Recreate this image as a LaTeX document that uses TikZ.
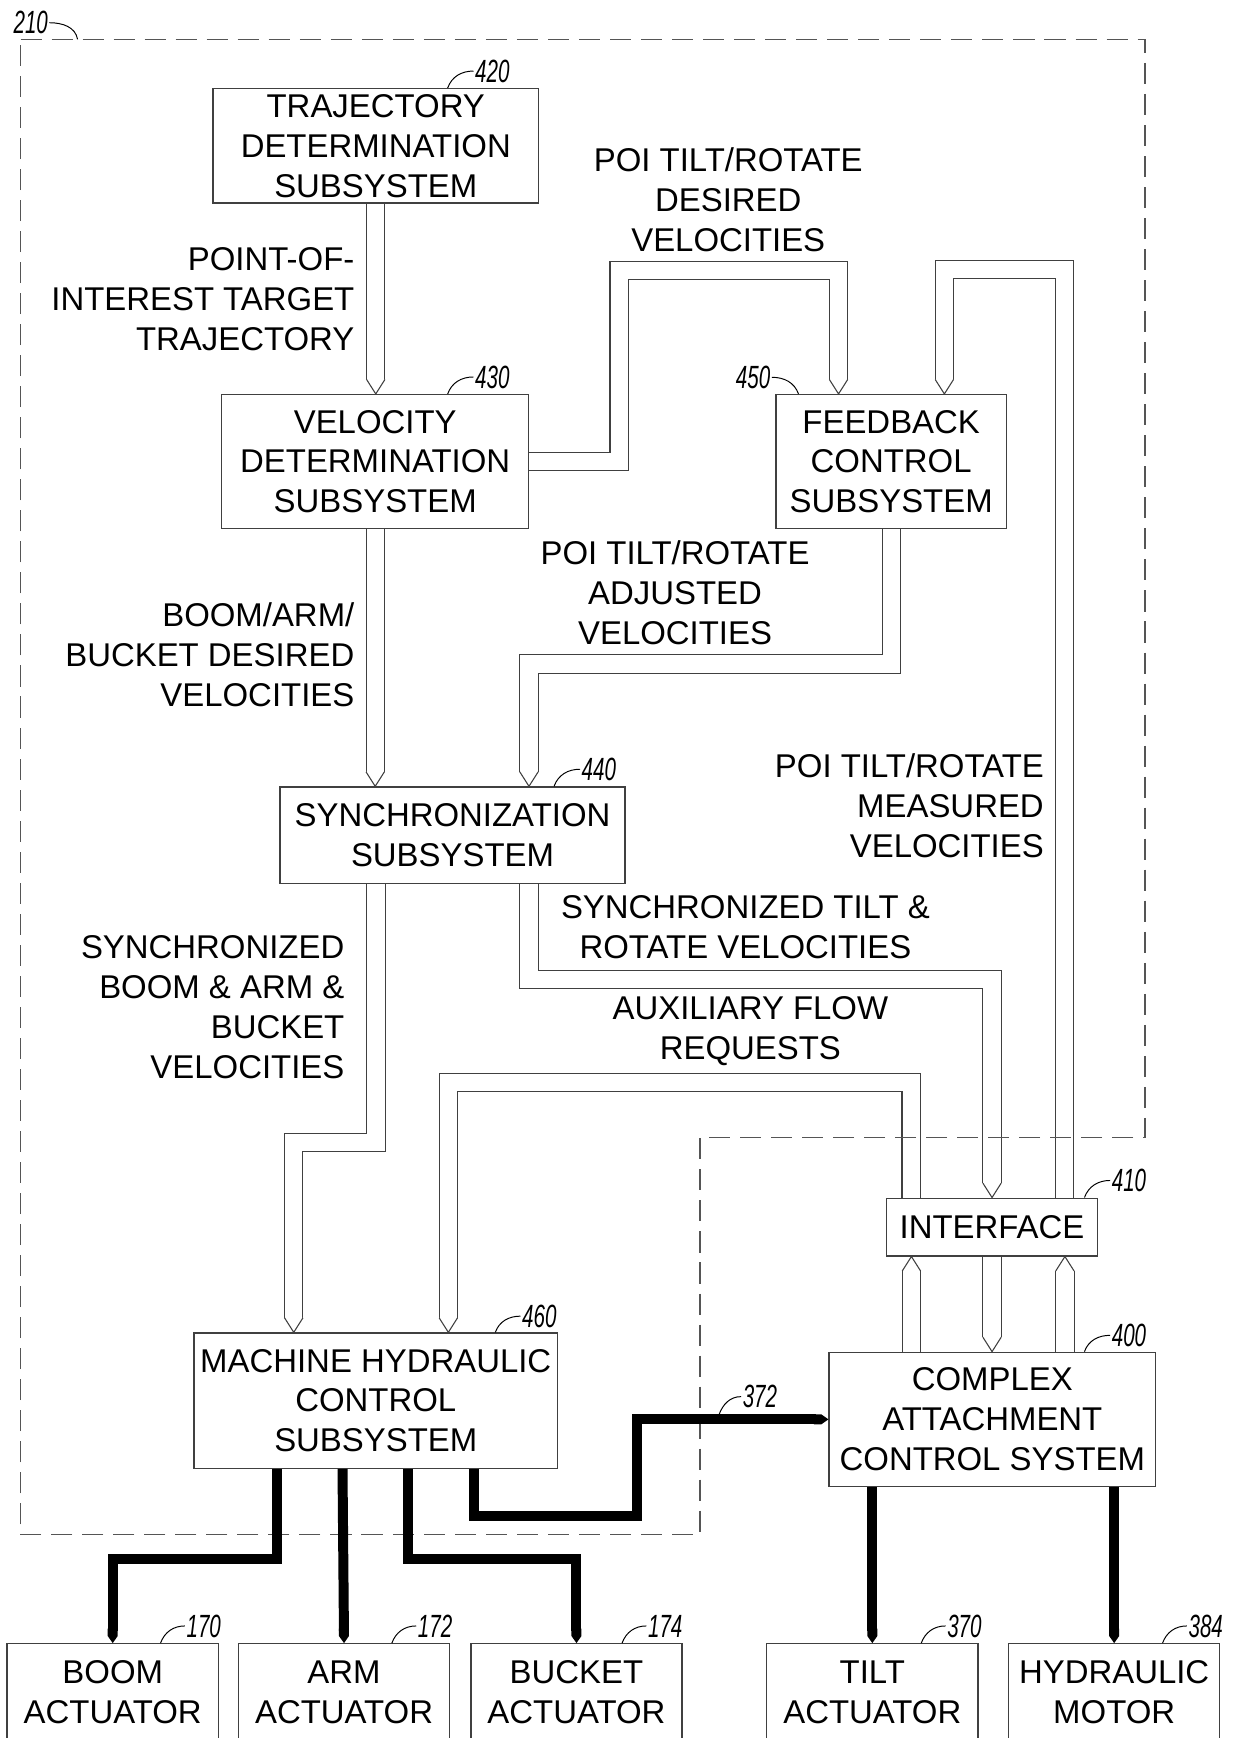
\documentclass[tikz,border=0pt]{standalone}
\usepackage{fontspec}
\setmainfont{Liberation Sans}
\newfontfamily\refnumfamily[FakeStretch=0.64]{Liberation Sans}
\usetikzlibrary{arrows.meta, positioning, backgrounds}
\definecolor{inkgray}{RGB}{64,64,64}
\definecolor{dashgray}{RGB}{85,85,85}
\newcommand{\sysboxfont}{\fontsize{16.9}{20.5}\selectfont}
\newcommand{\refnumstyle}{\refnumfamily\itshape\fontsize{16.5}{17}\selectfont}
\tikzset{
    sysbox/.style={rectangle, draw=inkgray, line width=0.7pt, align=center, inner sep=0pt, font=\sysboxfont},
    actbox/.style={sysbox, minimum width=3.81cm, minimum height=1.74cm},
    pipeflow/.style={draw=inkgray, line width=0.55pt, double=white, double distance=0.31cm, shorten >=0.26cm},
    pipetip/.style={draw=inkgray, line width=0.55pt, fill=white, line join=miter},
    powerline/.style={line width=0.18cm, -{Triangle Cap[cap angle=70]}},
    flowlabel/.style={font=\sysboxfont, inner sep=0pt},
    refnum/.style={font=\refnumstyle, inner sep=0.6pt},
    leader/.style={draw=black, line width=0.5pt},
    regionline/.style={draw=dashgray, line width=0.75pt, dash pattern=on 0.38cm off 0.18cm},
    pics/tipdown/.style={code={\draw[pipetip] (-8.25,-13) -- (0,0) -- (8.25,-13);}},
    pics/tipup/.style={code={\draw[pipetip] (-8.25,13) -- (0,0) -- (8.25,13);}}
}

\begin{document}
\begin{tikzpicture}[x=0.02cm, y=-0.02cm]
\useasboundingbox (0,0) rectangle (1115,1568);

% subsystem blocks
\node[sysbox, minimum width=5.88cm, minimum height=2.06cm] (traj) at (339,131.5) {TRAJECTORY\\DETERMINATION\\SUBSYSTEM};
\node[sysbox, minimum width=5.54cm, minimum height=2.42cm] (veldet) at (338.5,416.5) {VELOCITY\\DETERMINATION\\SUBSYSTEM};
\node[sysbox, minimum width=4.16cm, minimum height=2.42cm] (feedback) at (804,416.5) {FEEDBACK\\CONTROL\\SUBSYSTEM};
\node[sysbox, minimum width=6.23cm, minimum height=1.74cm] (sync) at (408.25,753.5) {SYNCHRONIZATION\\SUBSYSTEM};
\node[sysbox, minimum width=3.8cm, minimum height=1.04cm] (iface) at (895,1107) {INTERFACE};
\node[sysbox, minimum width=5.89cm, minimum height=2.42cm] (cacs) at (895.25,1280.5) {COMPLEX\\ATTACHMENT\\CONTROL SYSTEM};
\node[sysbox, minimum width=6.56cm, minimum height=2.44cm] (mhcs) at (339,1263.6) {MACHINE HYDRAULIC\\CONTROL\\SUBSYSTEM};

% actuators
\node[actbox] (boom) at (101.7,1526.5) {BOOM\\ACTUATOR};
\node[actbox, right=0.34cm of boom] (arm) {ARM\\ACTUATOR};
\node[actbox, right=0.36cm of arm] (bucket) {BUCKET\\ACTUATOR};
\node[actbox] (tilt) at (787,1526.5) {TILT\\ACTUATOR};
\node[actbox, right=0.53cm of tilt] (hmotor) {HYDRAULIC\\MOTOR};

% hollow signal pipes
\begin{scope}[on background layer]
\draw[pipeflow] (traj.south) -- (traj.south |- veldet.north);
\draw[pipeflow] (veldet.east) -- ++(81,0) -- ++(0,-172.5) -| ([xshift=-0.95cm]feedback.north);
\draw[pipeflow] ([xshift=1.31cm]iface.north) -- ++(0,-837) -| ([xshift=0.96cm]feedback.north);
\draw[pipeflow] (veldet.south) -- (veldet.south |- sync.north);
\draw[pipeflow] (feedback.south) -- ++(0,121.5) -| ([xshift=1.38cm]sync.north);
\draw[pipeflow] ([xshift=-1.38cm]sync.south) -- ++(0,233) -| ([xshift=-1.48cm]mhcs.north);
\draw[pipeflow] ([xshift=1.38cm]sync.south) -- ++(0,86) -| (iface.north);
\draw[pipeflow] ([xshift=-1.46cm]iface.north) -- ++(0,-103.5) -| ([xshift=1.31cm]mhcs.north);
\draw[pipeflow] ([xshift=-1.46cm]cacs.north) -- ([xshift=-1.46cm]cacs.north |- iface.south);
\draw[pipeflow] (iface.south) -- (iface.south |- cacs.north);
\draw[pipeflow] ([xshift=1.31cm]cacs.north) -- ([xshift=1.31cm]cacs.north |- iface.south);
\end{scope}

\pic at (traj.south |- veldet.north) {tipdown};
\pic at ([xshift=-0.95cm]feedback.north) {tipdown};
\pic at ([xshift=0.96cm]feedback.north) {tipdown};
\pic at (veldet.south |- sync.north) {tipdown};
\pic at ([xshift=1.38cm]sync.north) {tipdown};
\pic at ([xshift=-1.48cm]mhcs.north) {tipdown};
\pic at (iface.north) {tipdown};
\pic at ([xshift=1.31cm]mhcs.north) {tipdown};
\pic at ([xshift=-1.46cm]cacs.north |- iface.south) {tipup};
\pic at (iface.south |- cacs.north) {tipdown};
\pic at ([xshift=1.31cm]cacs.north |- iface.south) {tipup};

% region 210
\draw[regionline] (18.5,35.5) -- (1033,35.5) -- (1033,1026) -- (631.5,1026) -- (631.5,1384.5) -- (18.5,1384.5) -- cycle;

% hydraulic lines
\draw[powerline] ([xshift=-1.78cm]mhcs.south) -- ++(0,81) -| (boom.north);
\draw[powerline] ([xshift=-0.6cm]mhcs.south) -- (arm.north);
\draw[powerline] ([xshift=0.58cm]mhcs.south) -- ++(0,81) -| (bucket.north);
\draw[powerline] ([xshift=1.78cm]mhcs.south) -- ++(0,42.5) -- ++(147,0) |- (cacs.west);
\draw[powerline] (tilt.north |- cacs.south) -- (tilt.north);
\draw[powerline] (hmotor.north |- cacs.south) -- (hmotor.north);

% signal labels
\node[flowlabel, anchor=east, align=right] (lbltraj) at (320,270.2) {POINT-OF-\\INTEREST TARGET\\TRAJECTORY};
\node[flowlabel, align=center] (lbldesired) at (657,180.5) {POI TILT/ROTATE\\DESIRED\\VELOCITIES};
\node[flowlabel, anchor=east, align=right] (lblbam) at (320,590.5) {BOOM/ARM/\\BUCKET DESIRED\\VELOCITIES};
\node[flowlabel, align=center] (lbladjusted) at (609,535) {POI TILT/ROTATE\\ADJUSTED\\VELOCITIES};
\node[flowlabel, anchor=east, align=right] (lblmeasured) at (942,727) {POI TILT/ROTATE\\MEASURED\\VELOCITIES};
\node[flowlabel, align=center] (lblsynctilt) at (672.5,836.5) {SYNCHRONIZED TILT \&\\ROTATE VELOCITIES};
\node[flowlabel, anchor=east, align=right] (lblsyncbam) at (311,908.6) {SYNCHRONIZED\\BOOM \& ARM \&\\BUCKET\\VELOCITIES};
\node[flowlabel, align=center] (lblaux) at (677,930) {AUXILIARY FLOW\\REQUESTS};

% reference numerals
\node[refnum, anchor=east] (n210) at (44.6,20.5) {210};
\draw[leader] (n210.east) to[out=0,in=100] (70,35.5);
\draw[leader] ([xshift=4.25cm]traj.north west) to[out=70,in=180] ++(23.3,-15.3) node[refnum, anchor=west] (n420) {420};
\draw[leader] ([xshift=4.09cm]veldet.north west) to[out=70,in=180] ++(23.3,-15.3) node[refnum, anchor=west] (n430) {430};
\draw[leader] ([xshift=0.42cm]feedback.north west) to[out=110,in=0] ++(-24,-15) node[refnum, anchor=east] (n450) {450};
\draw[leader] ([xshift=4.96cm]sync.north west) to[out=70,in=180] ++(23.4,-15.4) node[refnum, anchor=west] (n440) {440};
\draw[leader] ([xshift=3.58cm]iface.north west) to[out=70,in=180] ++(23.2,-15.4) node[refnum, anchor=west] (n410) {410};
\draw[leader] ([xshift=4.62cm]cacs.north west) to[out=70,in=180] ++(23.2,-14.7) node[refnum, anchor=west] (n400) {400};
\draw[leader] ([xshift=5.45cm]mhcs.north west) to[out=70,in=180] ++(22.7,-14.6) node[refnum, anchor=west] (n460) {460};
\draw[leader] (648.6,1276.5) to[out=70,in=180] ++(20,-16.5) node[refnum, anchor=west] (n372) {372};
\draw[leader] ([xshift=2.78cm]boom.north west) to[out=70,in=180] ++(22,-15.5) node[refnum, anchor=west] (n170) {170};
\draw[leader] ([xshift=2.78cm]arm.north west) to[out=70,in=180] ++(22,-15.5) node[refnum, anchor=west] (n172) {172};
\draw[leader] ([xshift=2.74cm]bucket.north west) to[out=70,in=180] ++(22,-15.5) node[refnum, anchor=west] (n174) {174};
\draw[leader] ([xshift=2.8cm]tilt.north west) to[out=70,in=180] ++(22,-15.5) node[refnum, anchor=west] (n370) {370};
\draw[leader] ([xshift=2.79cm]hmotor.north west) to[out=70,in=180] ++(22,-15.5) node[refnum, anchor=west] (n384) {384};

\end{tikzpicture}
\end{document}
